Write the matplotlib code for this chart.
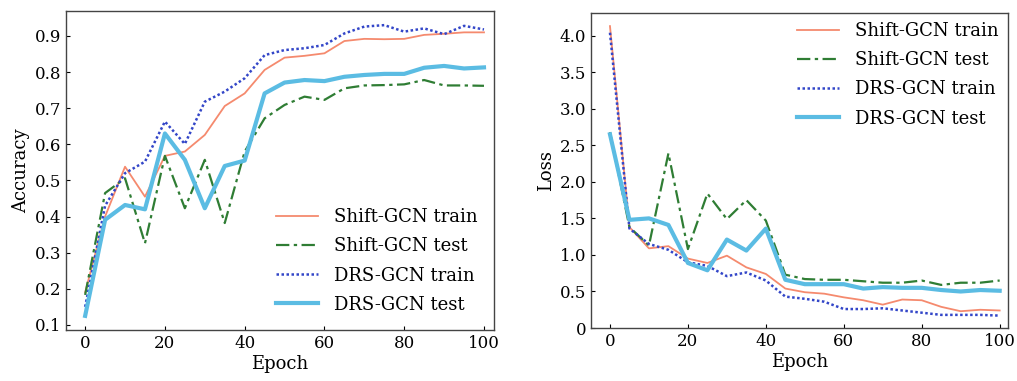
import matplotlib
matplotlib.use('Agg')
import matplotlib.pyplot as plt

plt.rcParams['font.family'] = ['DejaVu Serif']
plt.rcParams['mathtext.fontset'] = 'dejavuserif'

epochs = list(range(0, 101, 5))

# accuracy curves
acc_shift_train = [0.19, 0.40, 0.538, 0.455, 0.568, 0.58, 0.626, 0.706, 0.741, 0.806, 0.84,
                   0.845, 0.852, 0.886, 0.892, 0.891, 0.892, 0.903, 0.906, 0.91, 0.91]
acc_shift_test = [0.183, 0.465, 0.506, 0.326, 0.568, 0.423, 0.557, 0.382, 0.58, 0.672, 0.709,
                  0.732, 0.723, 0.755, 0.763, 0.764, 0.766, 0.778, 0.763, 0.763, 0.762]
acc_drs_train = [0.15, 0.43, 0.52, 0.552, 0.663, 0.601, 0.718, 0.746, 0.783, 0.847, 0.861,
                 0.866, 0.875, 0.907, 0.926, 0.93, 0.912, 0.921, 0.905, 0.928, 0.918]
acc_drs_test = [0.125, 0.391, 0.432, 0.42, 0.63, 0.557, 0.423, 0.54, 0.555, 0.741, 0.771,
                0.778, 0.775, 0.787, 0.792, 0.795, 0.795, 0.812, 0.817, 0.81, 0.813]

# loss curves
loss_shift_train = [4.13, 1.38, 1.09, 1.12, 0.95, 0.89, 0.99, 0.83, 0.74, 0.54, 0.49,
                    0.47, 0.42, 0.38, 0.32, 0.39, 0.38, 0.29, 0.23, 0.25, 0.24]
loss_shift_test = [2.68, 1.38, 1.13, 2.39, 1.08, 1.84, 1.49, 1.75, 1.47, 0.73, 0.67,
                   0.66, 0.66, 0.64, 0.62, 0.62, 0.65, 0.59, 0.62, 0.62, 0.65]
loss_drs_train = [4.04, 1.36, 1.15, 1.07, 0.90, 0.85, 0.71, 0.76, 0.65, 0.43, 0.40,
                  0.36, 0.26, 0.26, 0.27, 0.24, 0.21, 0.18, 0.18, 0.18, 0.17]
loss_drs_test = [2.65, 1.48, 1.50, 1.41, 0.89, 0.79, 1.21, 1.06, 1.36, 0.66, 0.60,
                 0.60, 0.60, 0.54, 0.56, 0.55, 0.55, 0.52, 0.50, 0.52, 0.51]

labels = ['Shift-GCN train', 'Shift-GCN test', 'DRS-GCN train', 'DRS-GCN test']
styles = [
    dict(color='#f58a6e', lw=1.3, ls='-'),
    dict(color='#2f7d34', lw=1.6, ls=(0, (6, 2, 1.5, 2))),
    dict(color='#3346c8', lw=1.8, ls=(0, (1, 1))),
    dict(color='#5bbce3', lw=3.0, ls='-'),
]

fig = plt.figure(figsize=(10.17, 3.81), dpi=100)
ax1 = fig.add_axes([0.0649, 0.134, 0.4208, 0.837])
ax2 = fig.add_axes([0.581, 0.139, 0.410, 0.827])


def draw(ax, series, ylabel, loc, pad):
    for ys, lab, st in zip(series, labels, styles):
        ax.plot(epochs, ys, label=lab, **st)
    ax.set_xlabel('Epoch', fontsize=13, labelpad=2)
    ax.set_ylabel(ylabel, fontsize=13, labelpad=3)
    ax.set_xticks([0, 20, 40, 60, 80, 100])
    ax.tick_params(direction='in', labelsize=12, length=3, width=0.8)
    for sp in ax.spines.values():
        sp.set_color('#444444')
        sp.set_linewidth(1.0)
    ax.legend(loc=loc, frameon=False, fontsize=13, handlelength=2.3,
              labelspacing=0.62, handletextpad=0.9, borderaxespad=pad)


draw(ax1, [acc_shift_train, acc_shift_test, acc_drs_train, acc_drs_test], 'Accuracy', 'lower right', 0.5)
ax1.set_xlim(-4.8, 102.5)
ax1.set_ylim(0.086, 0.969)
ax1.set_yticks([0.1, 0.2, 0.3, 0.4, 0.5, 0.6, 0.7, 0.8, 0.9])

draw(ax2, [loss_shift_train, loss_shift_test, loss_drs_train, loss_drs_test], 'Loss', 'upper right', 0.1)
ax2.set_xlim(-4.9, 102.1)
ax2.set_ylim(0, 4.31)
ax2.set_yticks([0, 0.5, 1.0, 1.5, 2.0, 2.5, 3.0, 3.5, 4.0])
ax2.set_yticklabels(['0', '0.5', '1.0', '1.5', '2.0', '2.5', '3.0', '3.5', '4.0'])

fig.savefig('out.png', dpi=100)
